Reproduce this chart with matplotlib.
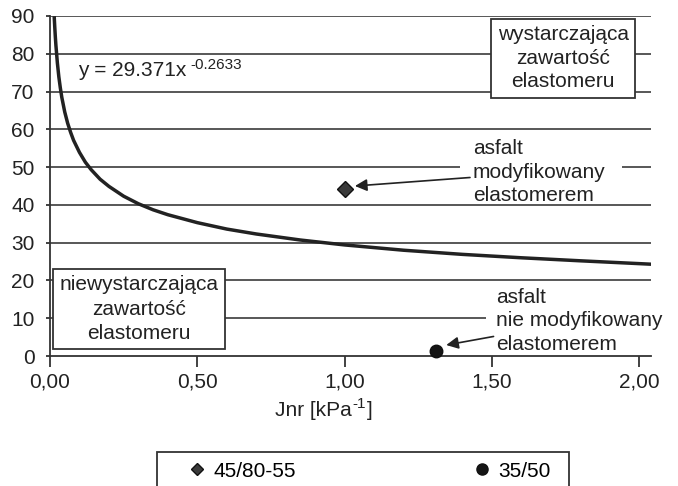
import numpy as np
import matplotlib
matplotlib.use('Agg')
import matplotlib.pyplot as plt
from matplotlib.ticker import FuncFormatter
from matplotlib.lines import Line2D
from matplotlib.patches import Rectangle

plt.rcParams['font.family'] = ['Liberation Sans', 'DejaVu Sans']

# trend line (power fit)
trend_x = [0.0145, 0.016, 0.018, 0.02, 0.025, 0.03, 0.035, 0.04, 0.05, 0.06,
           0.07, 0.08, 0.10, 0.12, 0.14, 0.17, 0.20, 0.25, 0.30, 0.35,
           0.40, 0.50, 0.60, 0.70, 0.85, 1.00, 1.20, 1.40, 1.60, 1.80, 2.04]
trend_y = [89.5, 87.3, 84.6, 82.3, 77.6, 73.9, 71.0, 68.5, 64.6, 61.6,
           59.2, 57.1, 53.9, 51.3, 49.3, 46.8, 44.9, 42.3, 40.3, 38.7,
           37.4, 35.3, 33.6, 32.3, 30.7, 29.4, 28.0, 26.9, 26.0, 25.2, 24.3]
trend_eq = 'y = 29.371x'
trend_exp = '-0.2633'

# measured binders
names = ['45/80-55', '35/50']
jnr = [1.00, 1.31]
elast = [44.2, 1.2]

grid_col = '#4a4a4a'
txt_col = '#222222'
fs = 15

fig = plt.figure(figsize=(6.78, 4.86), dpi=100)
ax = fig.add_axes([50 / 678, 1 - 356 / 486, 601 / 678, 340 / 486])

ax.set_xlim(0, 2.04)
ax.set_ylim(0, 90)
ax.set_yticks(np.arange(0, 91, 10))
ax.set_xticks([0, 0.5, 1.0, 1.5, 2.0])
ax.xaxis.set_major_formatter(FuncFormatter(lambda v, p: ('%.2f' % v).replace('.', ',')))
for yv in range(10, 91, 10):
    ax.axhline(yv, color=grid_col, lw=1.3, zorder=1)

for s in ['top', 'right']:
    ax.spines[s].set_visible(False)
for s in ['left', 'bottom']:
    ax.spines[s].set_color('#333333')
    ax.spines[s].set_linewidth(1.3)
ax.tick_params(axis='x', direction='out', length=8, width=1.3, color='#333333',
               labelsize=fs, pad=4, labelcolor=txt_col)
ax.tick_params(axis='y', direction='out', length=3, width=1.3, color='#333333',
               labelsize=fs, pad=8, labelcolor=txt_col)

ax.plot(trend_x, trend_y, color='#222222', lw=2.5, zorder=3,
        solid_joinstyle='round')

ax.plot(jnr[0], elast[0], marker='D', ms=8, color='#3a3a3a', mec='#111111',
        linestyle='None', zorder=5)
ax.plot(jnr[1], elast[1], marker='o', ms=9, color='#151515', mec='#111111',
        linestyle='None', zorder=5, clip_on=False)

# equation of the trend line
t_eq = ax.text(0.095, 75.5, trend_eq, fontsize=fs, color=txt_col, va='center', zorder=4)
ax.annotate(trend_exp, xy=(1, 1), xycoords=t_eq, xytext=(3, 2.5), textcoords='offset points',
            fontsize=11, color=txt_col, ha='left', va='top')

box = dict(boxstyle='square,pad=0.3', fc='white', ec='#333333', lw=1.3)
ax.text(1.742, 78.8, 'wystarczająca\nzawartość\nelastomeru', fontsize=fs,
        ha='center', va='center', linespacing=1.3, bbox=box, zorder=4, color=txt_col)
ax.text(0.302, 12.4, 'niewystarczająca\nzawartość\nelastomeru', fontsize=fs,
        ha='center', va='center', linespacing=1.35, bbox=box, zorder=4, color=txt_col)

# gaps in the grid lines behind the annotations
ax.add_patch(Rectangle((1.39, 48.5), 0.55, 3, fc='white', ec='none', zorder=2))
ax.add_patch(Rectangle((1.48, 8.5), 0.6, 3, fc='white', ec='none', zorder=2, clip_on=False))

ax.annotate('asfalt\nmodyfikowany\nelastomerem', xy=(1.035, 45.0), xytext=(1.435, 48.6),
            fontsize=fs, ha='left', va='center', linespacing=1.3, color=txt_col, zorder=4,
            arrowprops=dict(arrowstyle='-|>', color='#222222', lw=1.2,
                            mutation_scale=18, shrinkA=0, shrinkB=0))
ax.annotate('asfalt\nnie modyfikowany\nelastomerem', xy=(1.345, 2.9), xytext=(1.515, 9.3),
            fontsize=fs, ha='left', va='center', linespacing=1.3, color=txt_col, zorder=4,
            annotation_clip=False,
            arrowprops=dict(arrowstyle='-|>', color='#222222', lw=1.2,
                            mutation_scale=18, shrinkA=0, shrinkB=0))

# x axis title with superscript
t1 = fig.text(275 / 678, 1 - 410 / 486, 'Jnr [kPa', fontsize=fs, ha='left', va='center',
              color=txt_col)
t2 = ax.annotate('-1', xy=(1, 1), xycoords=t1, xytext=(0.5, 2.5), textcoords='offset points',
                 fontsize=11, color=txt_col, ha='left', va='top', annotation_clip=False)
ax.annotate(']', xy=(1, 0), xycoords=(t2, t1), xytext=(0.5, 0), textcoords='offset points',
            fontsize=fs, color=txt_col, ha='left', va='bottom', annotation_clip=False)

# legend box, cut by the bottom of the figure
fig.patches.append(Rectangle((157 / 678, -0.05), 412 / 678, 0.05 + 34 / 486,
                             transform=fig.transFigure, fc='white', ec='#333333', lw=1.3))
handles = [Line2D([], [], marker='D', ms=6.5, color='#3a3a3a', mec='#111111', linestyle='None'),
           Line2D([], [], marker='o', ms=8, color='#151515', mec='#111111', linestyle='None')]
fig.legend(handles, names, ncol=2, loc='center left', frameon=False,
           bbox_to_anchor=(168 / 678, 1 - 471 / 486), fontsize=fs,
           handlelength=1.0, handletextpad=0.3, columnspacing=8.4)

fig.savefig('out.png', dpi=100)
